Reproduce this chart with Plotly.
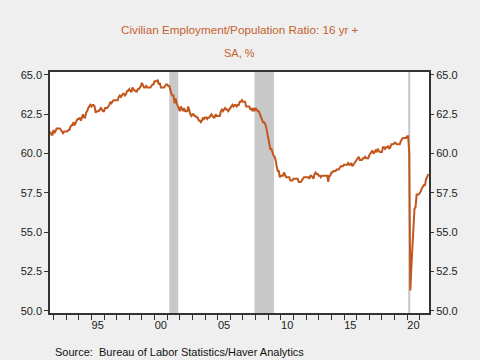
import plotly.graph_objects as go

start_year = 1991
start_month = 10  # October 1991

values_1991 = [61.4, 61.2, 61.2]
values_1992 = [61.5, 61.3, 61.5, 61.6, 61.6, 61.6, 61.6, 61.5, 61.4, 61.3, 61.4, 61.4]
values_1993 = [61.4, 61.4, 61.5, 61.5, 61.7, 61.8, 61.8, 62.0, 61.8, 62.0, 62.1, 62.2]
values_1994 = [62.2, 62.3, 62.1, 62.3, 62.5, 62.3, 62.3, 62.6, 62.7, 62.9, 63.0, 63.1]
values_1995 = [63.0, 63.1, 63.1, 63.0, 62.6, 62.7, 62.7, 62.7, 62.8, 62.9, 62.8, 62.7]
values_1996 = [62.7, 62.9, 62.9, 62.9, 63.0, 63.1, 63.3, 63.2, 63.3, 63.4, 63.4, 63.4]
values_1997 = [63.4, 63.4, 63.6, 63.7, 63.6, 63.7, 63.8, 63.8, 63.7, 63.8, 64.0, 64.0]
values_1998 = [64.1, 64.0, 63.9, 64.2, 64.1, 64.0, 64.0, 63.9, 64.1, 64.1, 64.2, 64.3]
values_1999 = [64.5, 64.3, 64.2, 64.2, 64.3, 64.2, 64.2, 64.2, 64.2, 64.3, 64.4, 64.4]
values_2000 = [64.6, 64.6, 64.6, 64.7, 64.4, 64.5, 64.2, 64.2, 64.2, 64.2, 64.3, 64.4]
values_2001 = [64.4, 64.3, 64.3, 64.0, 63.8, 63.7, 63.7, 63.2, 63.5, 63.2, 63.0, 62.9]
values_2002 = [62.7, 63.0, 62.8, 62.7, 62.9, 62.7, 62.7, 62.7, 63.0, 62.7, 62.5, 62.4]
values_2003 = [62.5, 62.5, 62.4, 62.4, 62.3, 62.3, 62.1, 62.1, 62.0, 62.1, 62.3, 62.2]
values_2004 = [62.3, 62.3, 62.2, 62.3, 62.3, 62.4, 62.5, 62.4, 62.3, 62.3, 62.5, 62.4]
values_2005 = [62.4, 62.4, 62.4, 62.7, 62.8, 62.7, 62.8, 62.9, 62.8, 62.8, 62.7, 62.8]
values_2006 = [62.9, 63.0, 63.1, 63.0, 63.1, 63.1, 63.0, 63.1, 63.1, 63.3, 63.3, 63.4]
values_2007 = [63.3, 63.3, 63.3, 63.0, 63.0, 63.0, 63.0, 62.8, 62.9, 62.7, 62.9, 62.7]
values_2008 = [62.9, 62.8, 62.7, 62.7, 62.5, 62.4, 62.2, 62.0, 62.0, 61.9, 61.7, 61.3]
values_2009 = [61.0, 60.6, 60.3, 60.3, 60.0, 59.9, 59.8, 59.6, 59.2, 58.9, 58.9, 58.5]
values_2010 = [58.6, 58.6, 58.6, 58.8, 58.6, 58.5, 58.5, 58.5, 58.5, 58.3, 58.3, 58.3]
values_2011 = [58.4, 58.4, 58.4, 58.4, 58.4, 58.2, 58.2, 58.2, 58.3, 58.4, 58.5, 58.5]
values_2012 = [58.5, 58.5, 58.5, 58.4, 58.6, 58.6, 58.5, 58.4, 58.7, 58.8, 58.7, 58.7]
values_2013 = [58.6, 58.6, 58.5, 58.6, 58.6, 58.6, 58.6, 58.6, 58.6, 58.2, 58.6, 58.6]
values_2014 = [58.8, 58.8, 58.9, 58.9, 58.9, 59.0, 59.0, 59.0, 59.1, 59.2, 59.2, 59.2]
values_2015 = [59.3, 59.3, 59.3, 59.3, 59.4, 59.3, 59.3, 59.4, 59.2, 59.3, 59.4, 59.5]
values_2016 = [59.6, 59.7, 59.8, 59.6, 59.6, 59.6, 59.7, 59.7, 59.8, 59.7, 59.7, 59.7]
values_2017 = [59.9, 60.0, 60.1, 60.2, 60.0, 60.1, 60.2, 60.1, 60.3, 60.2, 60.1, 60.1]
values_2018 = [60.1, 60.4, 60.4, 60.3, 60.4, 60.4, 60.5, 60.3, 60.4, 60.6, 60.6, 60.6]
values_2019 = [60.7, 60.7, 60.6, 60.6, 60.6, 60.6, 60.8, 60.9, 61.0, 61.0, 61.0, 61.0]
values_2020 = [61.1, 61.1, 60.0, 51.3, 52.8, 54.6, 55.3, 56.5, 56.6, 57.4, 57.4, 57.4]
values_2021 = [57.5, 57.6, 57.8, 57.9, 58.0, 58.0, 58.4, 58.5, 58.7]

all_values = (values_1991 + values_1992 + values_1993 + values_1994 + values_1995 +
              values_1996 + values_1997 + values_1998 + values_1999 + values_2000 +
              values_2001 + values_2002 + values_2003 + values_2004 + values_2005 +
              values_2006 + values_2007 + values_2008 + values_2009 + values_2010 +
              values_2011 + values_2012 + values_2013 + values_2014 + values_2015 +
              values_2016 + values_2017 + values_2018 + values_2019 + values_2020 +
              values_2021)

dates = [start_year + (start_month - 1 + i) / 12.0 for i in range(len(all_values))]

# Recessions (decimal years): start, end
recessions = [(2001 + 2 / 12, 2001 + 10.5 / 12), (2007 + 11 / 12, 2009 + 5.5 / 12), (2020 + 1 / 12, 2020 + 3 / 12)]

year_labels = ["95", "00", "05", "10", "15", "20"]
year_label_pos = [1995.5, 2000.5, 2005.5, 2010.5, 2015.5, 2020.5]
y_ticks = [50.0, 52.5, 55.0, 57.5, 60.0, 62.5, 65.0]

x_range = [1991.72, 2021.73]
y_range = [49.87, 65.19]

line_color = "#C2561C"
title_color = "#C4622D"
font_family = "Arial, Liberation Sans, sans-serif"

fig = go.Figure()
fig.add_trace(go.Scatter(x=dates, y=all_values, mode="lines",
                         line=dict(color=line_color, width=2), hoverinfo="skip",
                         showlegend=False))
# invisible traces to activate overlay axes
fig.add_trace(go.Scatter(x=[x_range[0]], y=[y_range[0]], xaxis="x2", yaxis="y",
                         mode="markers", marker=dict(opacity=0), showlegend=False, hoverinfo="skip"))
fig.add_trace(go.Scatter(x=[x_range[0]], y=[y_range[0]], xaxis="x", yaxis="y2",
                         mode="markers", marker=dict(opacity=0), showlegend=False, hoverinfo="skip"))

for s, e in recessions:
    fig.add_shape(type="rect", xref="x", yref="paper", x0=s, x1=e, y0=0, y1=1,
                  fillcolor="#C8C8C8", line=dict(width=0), layer="below")

tickfont = dict(family=font_family, size=11, color="#222222")

fig.update_layout(
    width=480, height=360,
    margin=dict(l=50, r=51, t=72, b=47),
    paper_bgcolor="#EFEFEF",
    plot_bgcolor="#FFFFFF",
    showlegend=False,
    xaxis=dict(range=x_range, tickmode="linear", tick0=1992, dtick=1,
               ticks="outside", ticklen=5, tickcolor="#333333", tickwidth=1,
               showticklabels=False, showgrid=False, zeroline=False,
               showline=True, linecolor="#333333", linewidth=1.5, mirror=True),
    xaxis2=dict(range=x_range, overlaying="x", anchor="y", side="bottom",
                tickmode="array", tickvals=year_label_pos, ticktext=year_labels,
                ticks="", tickfont=tickfont, showgrid=False, zeroline=False,
                showline=False, ticklabelstandoff=4),
    yaxis=dict(range=y_range, tickmode="array", tickvals=y_ticks,
               ticktext=[f"{v:.1f}" for v in y_ticks],
               ticks="outside", ticklen=4, tickcolor="#333333",
               tickfont=tickfont, showgrid=False, zeroline=False,
               showline=True, linecolor="#333333", linewidth=1.5, mirror=True),
    yaxis2=dict(range=y_range, overlaying="y", side="right", anchor="x",
                tickmode="array", tickvals=y_ticks,
                ticktext=[f"{v:.1f}" for v in y_ticks],
                ticks="outside", ticklen=4, tickcolor="#333333",
                tickfont=tickfont, showgrid=False, zeroline=False, showline=False),
    annotations=[
        dict(text="Civilian Employment/Population Ratio: 16 yr +", xref="paper", yref="paper",
             x=0.5, y=(313 - 30) / 241, xanchor="center", yanchor="middle", showarrow=False,
             font=dict(family=font_family, size=11.7, color=title_color)),
        dict(text="SA, %", xref="paper", yref="paper",
             x=0.5, y=(313 - 53) / 241, xanchor="center", yanchor="middle", showarrow=False,
             font=dict(family=font_family, size=11, color=title_color)),
        dict(text="Source:\u00a0\u00a0Bureau of Labor Statistics/Haver Analytics", xref="paper", yref="paper",
             x=(53 - 50) / 379, y=(313 - 352) / 241, xanchor="left", yanchor="middle", showarrow=False,
             font=dict(family=font_family, size=11, color="#111111")),
    ],
)

fig.write_html("out.html", config={"displayModeBar": False},
               post_script="document.body.style.margin='0px';document.body.style.overflow='hidden';")
